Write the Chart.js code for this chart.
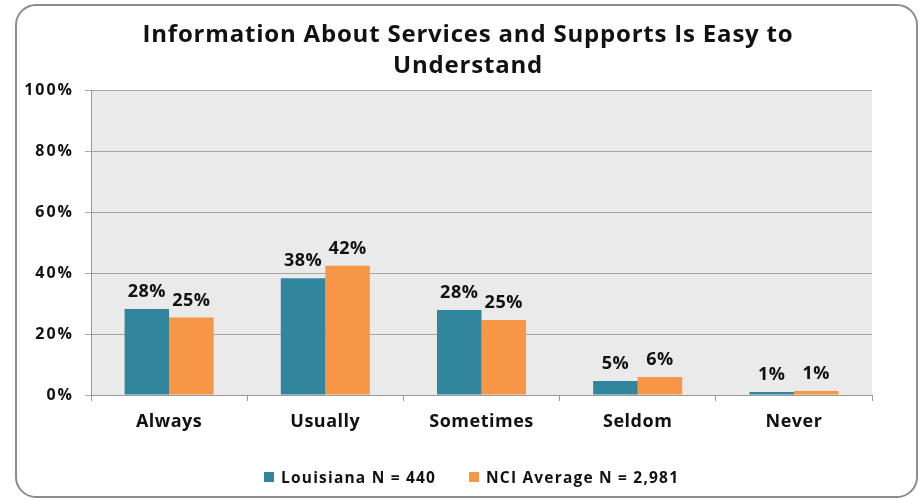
<!DOCTYPE html>
<html>
<head>
<meta charset="utf-8">
<script src="https://cdn.jsdelivr.net/npm/chart.js@4"></script>
<style>
html,body{margin:0;padding:0;background:#fff;}
#wrap{width:923px;height:501px;position:relative;}
</style>
</head>
<body>
<div id="wrap"><canvas id="c" width="923" height="501"></canvas></div>
<script>
const titleLines = ["Information About Services and Supports Is Easy to", "Understand"];
const categories = ["Always", "Usually", "Sometimes", "Seldom", "Never"];
const louisiana = [28.2, 38.3, 27.9, 4.6, 1.0];
const nciAverage = [25.4, 42.4, 24.6, 5.9, 1.3];
const louisianaLabels = ["28%", "38%", "28%", "5%", "1%"];
const nciLabels = ["25%", "42%", "25%", "6%", "1%"];
const seriesNames = ["Louisiana N = 440", "NCI Average N = 2,981"];
const yTicks = [0, 20, 40, 60, 80, 100];

const TEAL = "#31859C";
const ORANGE = "#F79646";
const FONT = "'Open Sans', 'DejaVu Sans', sans-serif";

function spaceLabels(scale, px) {
  if (scale._spaced) return;
  const orig = scale.drawLabels;
  scale.drawLabels = function (area) {
    const ctx = this.ctx;
    ctx.save();
    ctx.letterSpacing = px + "px";
    orig.call(this, area);
    ctx.restore();
  };
  scale._spaced = true;
}

const decorPlugin = {
  id: "decor",
  beforeDraw(chart) {
    const ctx = chart.ctx;
    const a = chart.chartArea;
    ctx.save();
    ctx.fillStyle = "#fff";
    ctx.fillRect(0, 0, chart.width, chart.height);
    ctx.strokeStyle = "#8c8c8c";
    ctx.lineWidth = 2;
    ctx.beginPath();
    ctx.roundRect(16, 5, 901, 492, 20);
    ctx.stroke();
    ctx.fillStyle = "#EAEAEA";
    ctx.fillRect(a.left, a.top, a.right - a.left, a.bottom - a.top);
    ctx.restore();
  },
  afterDraw(chart) {
    const ctx = chart.ctx;
    ctx.save();
    // title
    ctx.fillStyle = "#111";
    ctx.font = "bold 24px " + FONT;
    ctx.letterSpacing = "0.8px";
    ctx.textAlign = "center";
    ctx.textBaseline = "alphabetic";
    ctx.fillText(titleLines[0], 468, 42);
    ctx.fillText(titleLines[1], 468, 73);
    // data labels
    ctx.font = "bold 18px " + FONT;
    ctx.letterSpacing = "0.5px";
    const lbls = [louisianaLabels, nciLabels];
    chart.data.datasets.forEach((ds, di) => {
      const meta = chart.getDatasetMeta(di);
      meta.data.forEach((bar, i) => {
        ctx.fillText(lbls[di][i], bar.x, bar.y - 12);
      });
    });
    // legend
    ctx.font = "bold 15.5px " + FONT;
    ctx.letterSpacing = "1.2px";
    ctx.textAlign = "left";
    const ly = 483;
    ctx.fillStyle = TEAL;
    ctx.fillRect(264, 472, 10, 10);
    ctx.fillStyle = "#111";
    ctx.fillText(seriesNames[0], 281, ly);
    ctx.fillStyle = ORANGE;
    ctx.fillRect(469, 472, 10, 10);
    ctx.fillStyle = "#111";
    ctx.fillText(seriesNames[1], 486, ly);
    ctx.restore();
  }
};

new Chart(document.getElementById("c"), {
  type: "bar",
  data: {
    labels: categories,
    datasets: [
      { label: seriesNames[0], data: louisiana, backgroundColor: TEAL },
      { label: seriesNames[1], data: nciAverage, backgroundColor: ORANGE }
    ]
  },
  options: {
    responsive: false,
    animation: false,
    devicePixelRatio: 1,
    layout: { padding: { top: 90, right: 51, bottom: 0, left: 0 } },
    plugins: {
      legend: { display: false },
      title: { display: false },
      tooltip: { enabled: false }
    },
    datasets: { bar: { categoryPercentage: 0.57, barPercentage: 1.0 } },
    scales: {
      x: {
        offset: true,
        afterFit(scale) { scale.height = 106; spaceLabels(scale, 0.5); },
        grid: { display: true, drawOnChartArea: false, drawTicks: true, tickLength: 6, offset: true, color: "#999" },
        border: { display: true, color: "#999", width: 1 },
        ticks: { color: "#111", font: { family: FONT, size: 18, weight: "bold" }, padding: 10 }
      },
      y: {
        min: 0, max: 100,
        afterFit(scale) { scale.width = 91; spaceLabels(scale, 2); },
        afterBuildTicks(scale) { scale.ticks = yTicks.map(v => ({ value: v })); },
        grid: { color: "#A6A6A6", lineWidth: 1, drawTicks: true, tickLength: 6 },
        border: { display: true, color: "#999", width: 1 },
        ticks: { color: "#111", font: { family: FONT, size: 16, weight: "bold" }, padding: 11, callback: v => v + "%" }
      }
    }
  },
  plugins: [decorPlugin]
});
</script>
</body>
</html>
